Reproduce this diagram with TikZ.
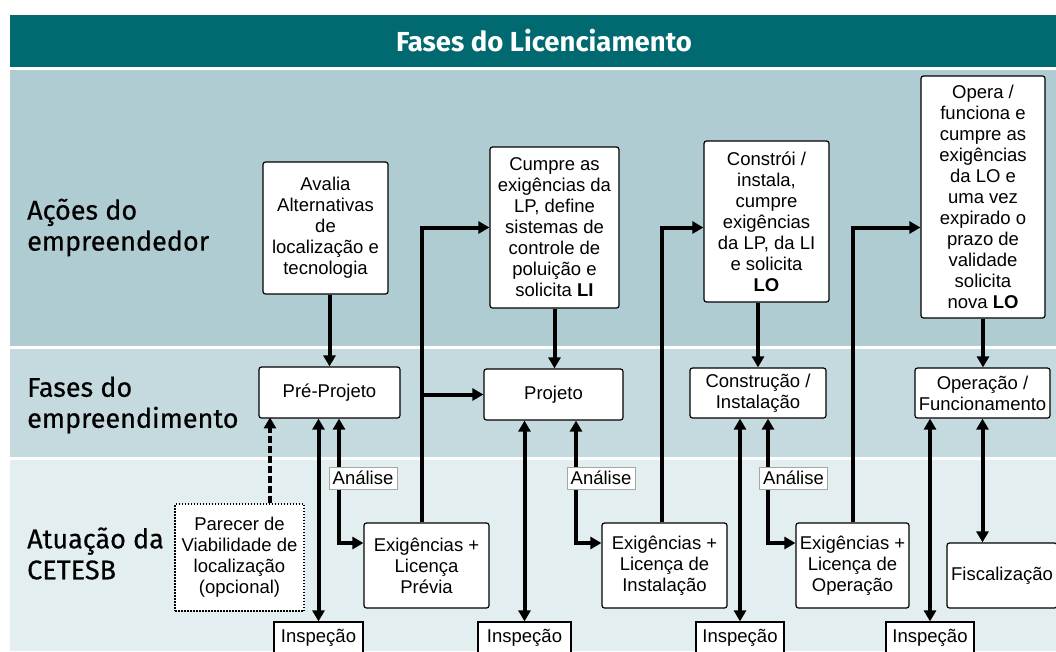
\documentclass[tikz,border=0pt]{standalone}
\usepackage{fontspec}
\setmainfont{Liberation Sans}
\newfontfamily\bandfont{Fira Sans}[FakeBold=0.5]
\newfontfamily\headfont{Fira Sans}
\usetikzlibrary{arrows.meta,calc}
\definecolor{titleteal}{HTML}{006A70}
\definecolor{bandone}{HTML}{AFCCD3}
\definecolor{bandtwo}{HTML}{C5DADF}
\definecolor{bandthree}{HTML}{E2EEF0}

\begin{document}
\begin{tikzpicture}[x=1pt,y=-1pt,
  box/.style={draw,fill=white,line width=1.2pt,rounded corners=2.5pt,align=center,inner sep=2pt,font=\fontsize{18.5}{21}\selectfont},
  tag/.style={draw=gray!70,fill=white,line width=0.9pt,inner sep=1pt,minimum width=68pt,minimum height=22pt,font=\fontsize{18.5}{21}\selectfont},
  band/.style={font=\bandfont\fontsize{27}{31}\selectfont,align=left,anchor=west,inner sep=0pt},
  flow/.style={line width=4pt,-{Triangle[length=11pt,width=12pt]}},
  twoway/.style={line width=4pt,{Triangle[length=11pt,width=12pt]}-{Triangle[length=11pt,width=12pt]}}]
  \useasboundingbox (0,0) rectangle (1056,651);
  \clip (0,0) rectangle (1056,651);
  \fill[titleteal] (10,15) rectangle (1056,67);
  \fill[bandone] (10,70) rectangle (1056,346);
  \fill[bandtwo] (10,349) rectangle (1056,457);
  \fill[bandthree] (10,460) rectangle (1056,651);
  \node[font=\headfont\bfseries\fontsize{27.5}{32}\selectfont,text=white] (title) at (544,41) {Fases do Licenciamento};
  \node[band] (acoes) at (27,227.5) {Ações do\\empreendedor};
  \node[band] (fases) at (27,405) {Fases do\\empreendimento};
  \node[band] (atuacao) at (27,553.5) {Atuação da\\CETESB};

  \node[box,minimum width=125pt,minimum height=132pt] (avalia) at (325.5,228) {Avalia\\Alternativas\\de\\localização e\\tecnologia};
  \node[box,minimum width=129pt,minimum height=161pt] (cumpre) at (554.5,227.5) {Cumpre as\\exigências da\\LP, define\\sistemas de\\controle de\\poluição e\\solicita \textbf{LI}};
  \node[box,minimum width=125pt,minimum height=161pt] (constroi) at (766.5,221.5) {Constrói /\\instala,\\cumpre\\exigências\\da LP, da LI\\e solicita\\\textbf{LO}};
  \node[box,minimum width=124pt,minimum height=242pt] (opera) at (983,197) {Opera /\\funciona e\\cumpre as\\exigências\\da LO e\\uma vez\\expirado o\\prazo de\\validade\\solicita\\nova \textbf{LO}};

  \node[box,minimum width=141pt,minimum height=51pt] (pre) at (329.5,392.5) {Pré-Projeto};
  \node[box,minimum width=139pt,minimum height=51pt] (proj) at (553.5,394.5) {Projeto};
  \node[box,minimum width=136pt,minimum height=50pt] (constr) at (758,393) {Construção /\\Instalação};
  \node[box,minimum width=135pt,minimum height=50pt] (oper) at (982.5,393) {Operação /\\Funcionamento};

  \node[box,sharp corners,dash pattern=on 1.5pt off 1.5pt,minimum width=129pt,minimum height=107pt] (parecer) at (239.5,557.5) {Parecer de\\Viabilidade de\\localização\\(opcional)};
  \node[box,minimum width=125pt,minimum height=85pt] (exlp) at (426.5,565.5) {Exigências +\\Licença\\Prévia};
  \node[box,minimum width=125pt,minimum height=85pt] (exli) at (664.5,565.5) {Exigências +\\Licença de\\Instalação};
  \node[box,minimum width=113pt,minimum height=85pt] (exlo) at (852.5,565.5) {Exigências +\\Licença de\\Operação};
  \node[box,minimum width=110pt,minimum height=65pt] (fisc) at (1002,575.5) {Fiscalização};

  \node[box,sharp corners,minimum width=89pt,minimum height=32pt] (insp1) at (318.5,638) {Inspeção};
  \node[box,sharp corners,minimum width=93pt,minimum height=32pt] (insp2) at (524.5,638) {Inspeção};
  \node[box,sharp corners,minimum width=88pt,minimum height=32pt] (insp3) at (740,638) {Inspeção};
  \node[box,sharp corners,minimum width=88pt,minimum height=32pt] (insp4) at (930,638) {Inspeção};

  \draw[flow] (pre.north |- avalia.south) -- (pre.north);
  \draw[flow] (cumpre.south) -- (cumpre.south |- proj.north);
  \draw[flow] (constr.north |- constroi.south) -- (constr.north);
  \draw[flow] (opera.south) -- (opera.south |- oper.north);

  \draw[flow] ([xshift=-4.5pt]exlp.north) |- (cumpre.west);
  \draw[flow] ([xshift=-4.5pt]exlp.north |- proj.west) -- (proj.west);
  \draw[flow] ([xshift=-2.5pt]exli.north) |- (constroi.west |- cumpre.west);
  \draw[flow] (exlo.north) |- (opera.west |- cumpre.west);

  \draw[twoway] ([xshift=9.5pt]pre.south) |- ([yshift=22.5pt]exlp.west);
  \draw[twoway] ([xshift=22.5pt]proj.south) |- ([yshift=22.5pt]exli.west);
  \draw[twoway] ([xshift=10pt]constr.south) |- ([yshift=22.5pt]exlo.west);

  \draw[twoway] (insp1.north) -- (insp1.north |- pre.south);
  \draw[twoway] (insp2.north) -- (insp2.north |- proj.south);
  \draw[twoway] (insp3.north) -- (insp3.north |- constr.south);
  \draw[twoway] (insp4.north) -- (insp4.north |- oper.south);
  \draw[twoway] (oper.south) -- (oper.south |- fisc.north);

  \draw[flow,dash pattern=on 7pt off 3pt] ($(parecer.north)+(30.5,0)$) -- ++(0,-86);

  \node[tag] (an1) at (363,478) {Análise};
  \node[tag] (an2) at (601,478) {Análise};
  \node[tag] (an3) at (793.5,478) {Análise};
\end{tikzpicture}
\end{document}
